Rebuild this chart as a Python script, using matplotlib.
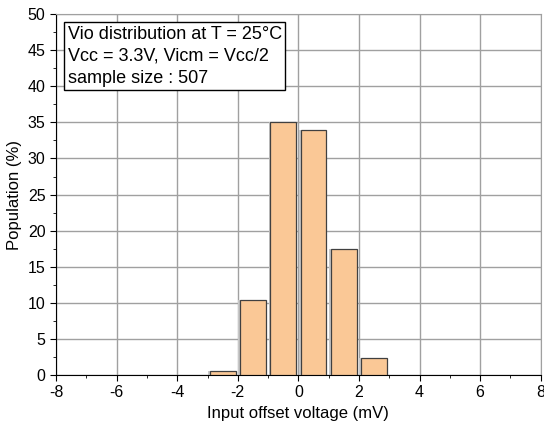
import numpy as np
import matplotlib.pyplot as plt
from matplotlib.ticker import MultipleLocator

plt.rcParams['font.family'] = ['Liberation Sans', 'DejaVu Sans']
plt.rcParams['axes.unicode_minus'] = False

# histogram bins (mV) and population (%)
bin_centers = [-2.5, -1.5, -0.5, 0.5, 1.5, 2.5]
population = [0.6, 10.4, 35.0, 34.0, 17.4, 2.4]
xticks = [-8, -6, -4, -2, 0, 2, 4, 6, 8]
yticks = [0, 5, 10, 15, 20, 25, 30, 35, 40, 45, 50]

fig = plt.figure(figsize=(5.44, 4.29), dpi=100)
ax = fig.add_axes([0.103, 0.126, 0.891, 0.841])

ax.grid(True, color='#a0a0a0', linewidth=1.0, zorder=0)
ax.set_axisbelow(True)

# slight grey shadow behind each bar
ax.bar(np.array(bin_centers) - 0.06, population, width=0.85, color='#c8c8c8',
       linewidth=0, zorder=2)
ax.bar(bin_centers, population, width=0.85, color='#fac896',
       edgecolor='#404040', linewidth=0.9, zorder=3)

ax.set_xlim(-8, 8)
ax.set_ylim(0, 50)
ax.set_xticks(xticks)
ax.set_yticks(yticks)
ax.xaxis.set_minor_locator(MultipleLocator(1))
ax.yaxis.set_minor_locator(MultipleLocator(2.5))
ax.tick_params(which='major', direction='out', length=4, labelsize=11.5)
ax.tick_params(which='minor', direction='out', length=2)

for s in ['top', 'right']:
    ax.spines[s].set_color('#a0a0a0')

ax.set_xlabel('Input offset voltage (mV)', fontsize=12)
ax.set_ylabel('Population (%)', fontsize=12)

ax.text(-7.62, 48.4,
        'Vio distribution at T = 25°C\nVcc = 3.3V, Vicm = Vcc/2\nsample size : 507',
        fontsize=13, va='top', ha='left', linespacing=1.38,
        bbox=dict(facecolor='white', edgecolor='black', boxstyle='square,pad=0.2'),
        zorder=5)

fig.savefig('out.png', dpi=100)
